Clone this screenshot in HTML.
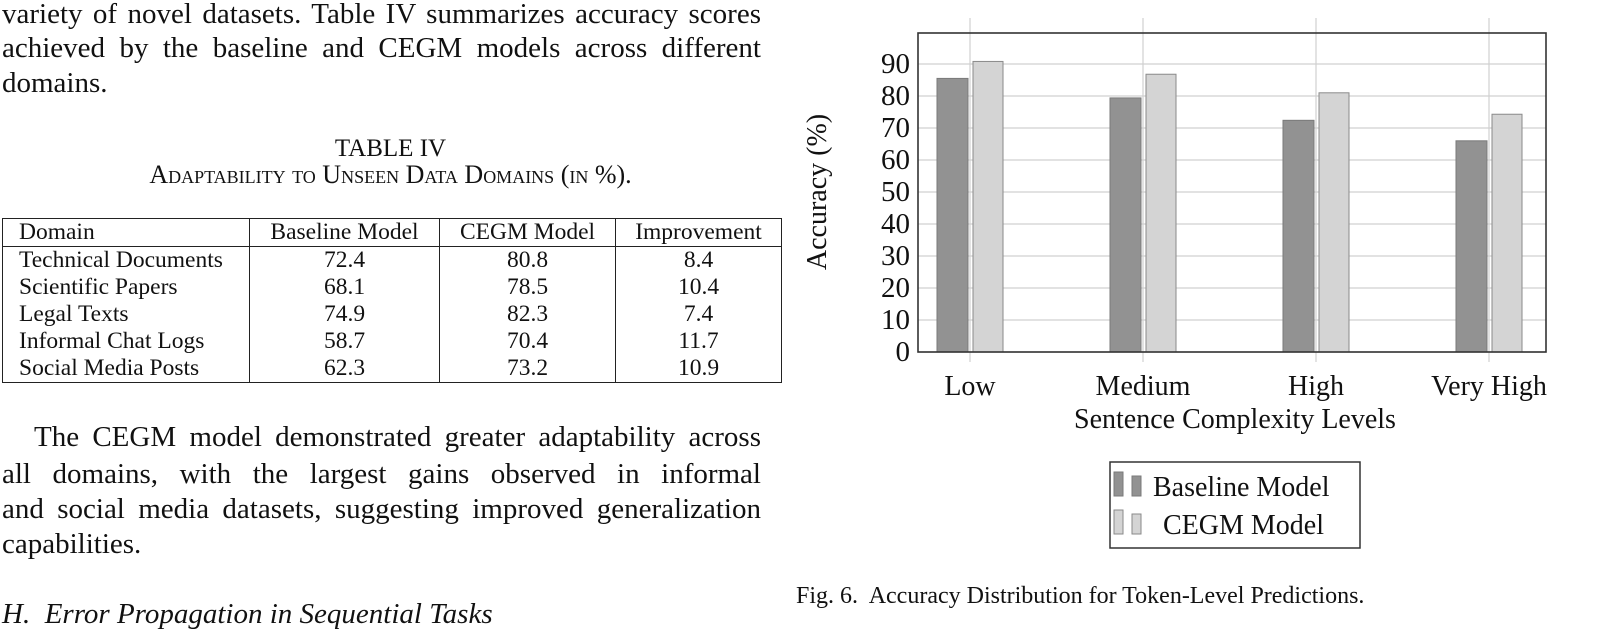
<!DOCTYPE html>
<html><head><meta charset="utf-8"><style>
body{margin:0;width:1597px;height:639px;background:#fff;position:relative;overflow:hidden;font-family:"Liberation Serif",serif;color:#111}
.t{position:absolute;font-size:29px;line-height:29px;white-space:nowrap}
.j{position:absolute;left:2px;width:759px;font-size:29px;line-height:29px;text-align:justify;text-align-last:justify;white-space:nowrap}
table{position:absolute;left:2px;top:218px;width:779px;border-collapse:collapse;font-size:23.5px;line-height:27px;table-layout:fixed}
td{padding:0 16px;border-left:1.5px solid #222;border-right:1.5px solid #222;text-align:center;white-space:nowrap;overflow:hidden}
td:first-child{text-align:left}
tr.h td{border-top:1.5px solid #222;border-bottom:1.5px solid #222;height:27px}
tr.last td{border-bottom:1.5px solid #222}
</style></head><body>
<div class="j" style="top:0px">variety of novel datasets. Table IV summarizes accuracy scores</div>
<div class="j" style="top:34px">achieved by the baseline and CEGM models across different</div>
<div class="t" style="left:2px;top:69px">domains.</div>
<div class="t" style="left:0;width:781px;text-align:center;top:134px;font-size:25px">TABLE IV</div>
<div class="t" style="left:0;width:781px;text-align:center;top:160px;font-size:26px;font-variant:small-caps">Adaptability to Unseen Data Domains (in %).</div>
<table>
<colgroup><col style="width:247px"><col style="width:190px"><col style="width:176px"><col style="width:166px"></colgroup>
<tr class="h"><td>Domain</td><td>Baseline Model</td><td>CEGM Model</td><td>Improvement</td></tr>
<tr><td>Technical Documents</td><td>72.4</td><td>80.8</td><td>8.4</td></tr>
<tr><td>Scientific Papers</td><td>68.1</td><td>78.5</td><td>10.4</td></tr>
<tr><td>Legal Texts</td><td>74.9</td><td>82.3</td><td>7.4</td></tr>
<tr><td>Informal Chat Logs</td><td>58.7</td><td>70.4</td><td>11.7</td></tr>
<tr class="last"><td>Social Media Posts</td><td>62.3</td><td>73.2</td><td>10.9</td></tr>
</table>
<div class="j" style="top:423px;text-indent:32px">The CEGM model demonstrated greater adaptability across</div>
<div class="j" style="top:460px">all domains, with the largest gains observed in informal</div>
<div class="j" style="top:495px">and social media datasets, suggesting improved generalization</div>
<div class="t" style="left:2px;top:530px">capabilities.</div>
<div class="t" style="left:2px;top:600px;font-style:italic">H.&nbsp; Error Propagation in Sequential Tasks</div>
<div class="t" style="left:796px;top:584px;font-size:24px;line-height:24px">Fig. 6.&nbsp; Accuracy Distribution for Token-Level Predictions.</div>
<svg id="chart" width="1597" height="639" style="position:absolute;left:0;top:0"></svg>
<script>
const categories=["Low","Medium","High","Very High"];
const baseline=[85.5,79.4,72.4,66];
const cegm=[90.8,86.8,81,74.3];
const yTicks=[0,10,20,30,40,50,60,70,80,90];
const svg=document.getElementById('chart');
const NS='http://www.w3.org/2000/svg';
const L=918,R=1546,T=33,B=352;
const y=v=>B-v*3.2;
const x=i=>970+i*173;
function mk(t,a,txt){const e=document.createElementNS(NS,t);for(const k in a)e.setAttribute(k,a[k]);if(txt!==undefined)e.textContent=txt;svg.appendChild(e);return e;}
yTicks.forEach(v=>{
 const g=mk('line',{x1:L,x2:R,y1:y(v),y2:y(v),stroke:'#d0d0d0','stroke-width':1.2});
 
 
 const t=mk('text',{x:L-8,y:y(v)+9,'text-anchor':'end','font-size':29,'font-family':'Liberation Serif, serif',fill:'#111'},v);
 
 
});
categories.forEach((c,i)=>{
 const g=mk('line',{x1:x(i),x2:x(i),y1:18,y2:B+10,stroke:'#d0d0d0','stroke-width':1.2});
 
 
 const b=mk('rect',{x:x(i)-33,y:y(baseline[i]),width:31,height:B-y(baseline[i]),fill:'#929292',stroke:'#7a7a7a','stroke-width':1});
 
 
 const d=mk('rect',{x:x(i)+3,y:y(cegm[i]),width:30,height:B-y(cegm[i]),fill:'#d4d4d4',stroke:'#8a8a8a','stroke-width':1});
 
 
 const t=mk('text',{x:x(i),y:395,'text-anchor':'middle','font-size':28,'font-family':'Liberation Serif, serif',fill:'#111'},c);
 
 
});
const f=mk('rect',{x:L,y:T,width:R-L,height:B-T,fill:'none',stroke:'#333','stroke-width':1.6});


const xt=mk('text',{x:1235,y:428,'text-anchor':'middle','font-size':28,'font-family':'Liberation Serif, serif',fill:'#111'},'Sentence Complexity Levels');


const yt=mk('text',{x:0,y:0,transform:'translate(826,192) rotate(-90)','text-anchor':'middle','font-size':28,'font-family':'Liberation Serif, serif',fill:'#111'},'Accuracy (%)');


const lg=mk('rect',{x:1110,y:462,width:250,height:86,fill:'#fff',stroke:'#333','stroke-width':1.5});


[['Baseline Model','#929292','#7a7a7a',494,1153],['CEGM Model','#d4d4d4','#8a8a8a',532,1163]].forEach(([n,fc,sc,ty,tx])=>{
 const s1=mk('rect',{x:1114,y:ty-22,width:9,height:24,fill:fc,stroke:sc});
 
 
 const s2=mk('rect',{x:1132,y:ty-18,width:9,height:20,fill:fc,stroke:sc});
 
 
 const t=mk('text',{x:tx,y:ty+2,'font-size':28,'font-family':'Liberation Serif, serif',fill:'#111'},n);
 
 
});
</script>
</body></html>
